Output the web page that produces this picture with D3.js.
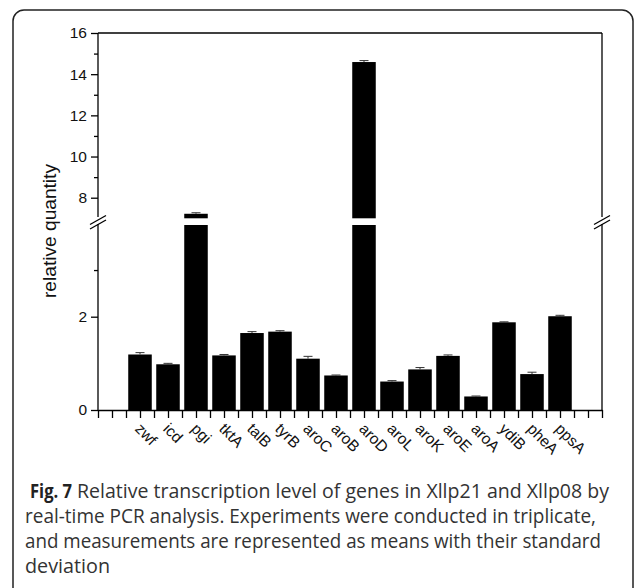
<!DOCTYPE html>
<html>
<head>
<meta charset="utf-8">
<script src="https://cdn.jsdelivr.net/npm/d3@7"></script>
<style>
  html, body { margin: 0; padding: 0; background: #ffffff; }
  svg { display: block; }
</style>
</head>
<body>
<svg id="chart" width="635" height="588"></svg>
<script>
// ---- data ----
const genes = ["zwf","icd","pgi","tktA","talB","tyrB","aroC","aroB","aroD","aroL","aroK","aroE","aroA","ydiB","pheA","ppsA"];
const values = [1.19, 0.98, 7.22, 1.17, 1.65, 1.68, 1.10, 0.74, 14.59, 0.61, 0.87, 1.16, 0.29, 1.88, 0.77, 2.01];
const errors = [0.04, 0.02, 0.05, 0.02, 0.03, 0.02, 0.05, 0.01, 0.07, 0.02, 0.04, 0.02, 0.01, 0.01, 0.04, 0.02];
const lowTicks = [0, 2];
const lowMinor = [3];
const highTicks = [8, 10, 12, 14, 16];
const highMinor = [9, 11, 13, 15];
const yLabel = "relative quantity";
const captionBold = "Fig. 7";
const captionLines = [
  "Relative transcription level of genes in Xllp21 and Xllp08 by",
  "real-time PCR analysis. Experiments were conducted in triplicate,",
  "and measurements are represented as means with their standard",
  "deviation"
];

// ---- layout ----
const svg = d3.select("#chart");
const L = 98, R = 602, T = 33, B = 410;
const lowTop = 225, highBottom = 218.3;
const font = "'Liberation Sans', Arial, sans-serif";

// outer rounded frame
svg.append("rect").attr("x", 13).attr("y", 10).attr("width", 620).attr("height", 620)
  .attr("rx", 11).attr("fill", "none").attr("stroke", "#222").attr("stroke-width", 1.5);

// scales
const slots = ["_s0", ...genes, "_s1"];
const x = d3.scaleBand().domain(slots).range([L, R]).paddingInner(0.16).paddingOuter(0.08);
const xl = d3.scaleLinear().domain([0, slots.length]).range([L, R]);
const yLow = d3.scaleLinear().domain([0, 2]).range([B, 316.7]);
const yHigh = d3.scaleLinear().domain([7, 16]).range([highBottom, T]);
const lowMax = yLow.invert(lowTop);

// bars
const g = svg.append("g");
genes.forEach((name, i) => {
  const v = values[i], e = errors[i];
  const bx = x(name), bw = x.bandwidth(), cx = bx + bw / 2;
  let topY, ey;
  if (v <= lowMax) {
    topY = yLow(v);
    g.append("rect").attr("x", bx).attr("y", topY).attr("width", bw).attr("height", B - topY).attr("fill", "#000");
    ey = yLow(v + e);
  } else {
    g.append("rect").attr("x", bx).attr("y", lowTop).attr("width", bw).attr("height", B - lowTop).attr("fill", "#000");
    topY = yHigh(v);
    g.append("rect").attr("x", bx).attr("y", topY).attr("width", bw).attr("height", highBottom - topY).attr("fill", "#000");
    ey = yHigh(v + e);
  }
  g.append("line").attr("x1", cx).attr("x2", cx).attr("y1", topY).attr("y2", ey).attr("stroke", "#333").attr("stroke-width", 1);
  g.append("line").attr("x1", cx - 4.5).attr("x2", cx + 4.5).attr("y1", ey).attr("y2", ey).attr("stroke", "#333").attr("stroke-width", 1);
});

// frame lines: top and right
svg.append("line").attr("x1", L).attr("x2", R).attr("y1", T).attr("y2", T).attr("stroke", "#000").attr("stroke-width", 1.3);
svg.append("line").attr("x1", R).attr("x2", R).attr("y1", T).attr("y2", B).attr("stroke", "#000").attr("stroke-width", 1.3);

// left axes
function styleAxis(sel) {
  sel.selectAll("path").attr("stroke", "#000").attr("stroke-width", 1.3);
  sel.selectAll("line").attr("stroke", "#000").attr("stroke-width", 1.3);
  sel.selectAll("text").attr("font-family", font).attr("font-size", 15.5).attr("fill", "#111");
}
const fmt = d3.format("d");
const aLow = svg.append("g").attr("transform", `translate(${L},0)`)
  .call(d3.axisLeft(yLow).tickValues(lowTicks).tickFormat(fmt).tickSize(7).tickPadding(4).tickSizeOuter(0));
styleAxis(aLow);
aLow.select("path").attr("d", `M0,${B}V${lowTop - 4}`);
const aLowMinor = svg.append("g").attr("transform", `translate(${L},0)`)
  .call(d3.axisLeft(yLow).tickValues(lowMinor).tickSize(4).tickFormat("").tickSizeOuter(0));
styleAxis(aLowMinor); aLowMinor.select("path").remove();

const aHigh = svg.append("g").attr("transform", `translate(${L},0)`)
  .call(d3.axisLeft(yHigh).tickValues(highTicks).tickFormat(fmt).tickSize(7).tickPadding(4).tickSizeOuter(0));
styleAxis(aHigh);
aHigh.select("path").attr("d", `M0,${T}V${highBottom}`);
const aHighMinor = svg.append("g").attr("transform", `translate(${L},0)`)
  .call(d3.axisLeft(yHigh).tickValues(highMinor).tickSize(4).tickFormat("").tickSizeOuter(0));
styleAxis(aHighMinor); aHighMinor.select("path").remove();

// gaps in vertical axes
svg.append("rect").attr("x", R - 2).attr("y", 217).attr("width", 4).attr("height", 7).attr("fill", "#fff");
svg.append("rect").attr("x", L - 2).attr("y", 217).attr("width", 4).attr("height", 7).attr("fill", "#fff");

// break marks
[L, R].forEach(ax => {
  [224.5, 229].forEach(yy => {
    svg.append("line").attr("x1", ax - 8).attr("y1", yy).attr("x2", ax + 8).attr("y2", yy - 9)
      .attr("stroke", "#000").attr("stroke-width", 1.3);
  });
});

// bottom axis
const aX = svg.append("g").attr("transform", `translate(0,${B})`)
  .call(d3.axisBottom(xl).tickValues(d3.range(0, slots.length + 0.01, 0.5)).tickSize(8).tickFormat("").tickSizeOuter(0));
styleAxis(aX);

// category labels
genes.forEach((name) => {
  const cx = x(name) + x.bandwidth() / 2;
  svg.append("text").attr("transform", `translate(${cx + 2},${422}) rotate(45)`)
    .attr("dy", "0.71em").attr("font-family", font).attr("font-size", 15.5).attr("fill", "#111")
    .attr("text-anchor", "start").text(name);
});

// y label
svg.append("text").attr("transform", "translate(56,231) rotate(-90)")
  .attr("text-anchor", "middle").attr("font-family", font).attr("font-size", 19)
  .attr("fill", "#111").attr("textLength", 134).attr("lengthAdjust", "spacingAndGlyphs").text(yLabel);

// caption
const cfont = "'Open Sans', 'Noto Sans', sans-serif";
svg.append("text").attr("x", 30).attr("y", 498).attr("font-family", cfont).attr("font-weight", "bold")
  .attr("font-size", 19.5).attr("fill", "#222").attr("textLength", 42).attr("lengthAdjust", "spacingAndGlyphs").text(captionBold);
const capPos = [[77, 498, 532], [25, 523, 571], [25, 548, 576], [25, 573, 85]];
captionLines.forEach((t, i) => {
  const [cx0, cy, w] = capPos[i];
  svg.append("text").attr("x", cx0).attr("y", cy).attr("font-family", cfont).attr("font-size", 19.5)
    .attr("fill", "#333").attr("textLength", w).attr("lengthAdjust", "spacingAndGlyphs").text(t);
});
</script>
</body>
</html>
